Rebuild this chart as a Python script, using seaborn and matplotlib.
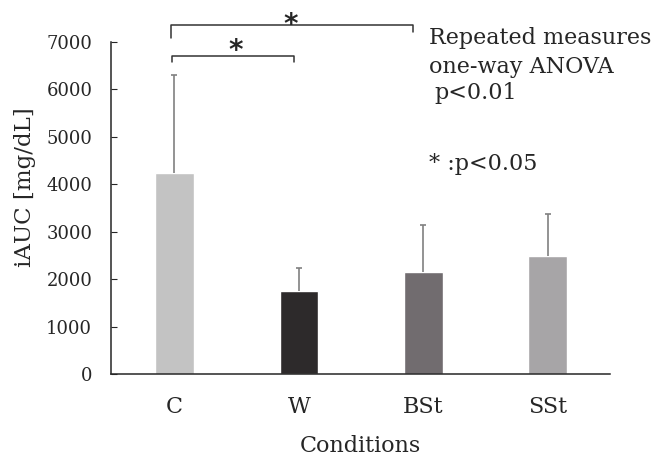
import pandas as pd
import seaborn as sns
import matplotlib.pyplot as plt

# valores
condicoes = ['C', 'W', 'BSt', 'SSt']
iauc_media = [4240, 1750, 2145, 2490]
iauc_dp = [2070, 490, 990, 890]
cores = ['#c3c3c3', '#2d2a2b', '#716c6f', '#a7a5a7']

df = pd.DataFrame({'cond': condicoes, 'iauc': iauc_media, 'dp': iauc_dp})

sns.set_style('ticks')
plt.rcParams['font.family'] = ['DejaVu Serif']

fig = plt.figure(figsize=(6.67, 4.59), dpi=100)
ax = fig.add_axes([111 / 667, 1 - 374 / 459, 499 / 667, 332 / 459])

sns.barplot(data=df, x='cond', y='iauc', hue='cond', palette=cores,
            width=0.31, errorbar=None, legend=False, saturation=1, ax=ax)
eb = ax.errorbar(x=range(len(condicoes)), y=df['iauc'],
                 yerr=[[0] * len(condicoes), df['dp']], fmt='none',
                 ecolor='#808080', elinewidth=1.2, capsize=2, capthick=1.2)
# só a barra superior
eb.lines[1][0].set_visible(False)

ax.set_xlim(-0.51, 3.5)
ax.set_ylim(0, 7000)
ax.set_yticks(range(0, 7001, 1000))
ax.tick_params(axis='y', direction='in', length=4, labelsize=13, pad=13.5)
ax.tick_params(axis='x', length=0, labelsize=16, pad=16)
for s in ['top', 'right']:
    ax.spines[s].set_visible(False)
ax.spines['left'].set_linewidth(1.1)
ax.spines['bottom'].set_linewidth(1.1)
ax.set_xlabel('Conditions', fontsize=16)
ax.set_ylabel('iAUC [mg/dL]', fontsize=16.5)
ax.xaxis.label.set_va('baseline')
ax.xaxis.set_label_coords(0.5, -0.235)
ax.yaxis.set_label_coords(-0.15, 0.563)

# colchetes de significância
kw = dict(color='#333333', lw=1.1, clip_on=False)
ax.plot([-0.02, -0.02, 0.96, 0.96], [6578, 6705, 6705, 6578], **kw)
ax.plot([-0.03, -0.03, 1.915, 1.915], [7090, 7352, 7352, 7217], **kw)
ax.text(0.494, 6640, '*', ha='center', va='baseline', fontsize=20,
        family='DejaVu Sans', weight='bold', clip_on=False)
ax.text(0.936, 7190, '*', ha='center', va='baseline', fontsize=20,
        family='DejaVu Sans', weight='bold', clip_on=False)

fs = 16
fig.text(429 / 667, 1 - 44 / 459, 'Repeated measures', fontsize=fs, va='baseline')
fig.text(429 / 667, 1 - 73 / 459, 'one-way ANOVA', fontsize=fs, va='baseline')
fig.text(434 / 667, 1 - 99 / 459, 'p<0.01', fontsize=fs, va='baseline')
fig.text(429 / 667, 1 - 170 / 459, '* :p<0.05', fontsize=fs, va='baseline')

fig.savefig('out.png', dpi=100)
